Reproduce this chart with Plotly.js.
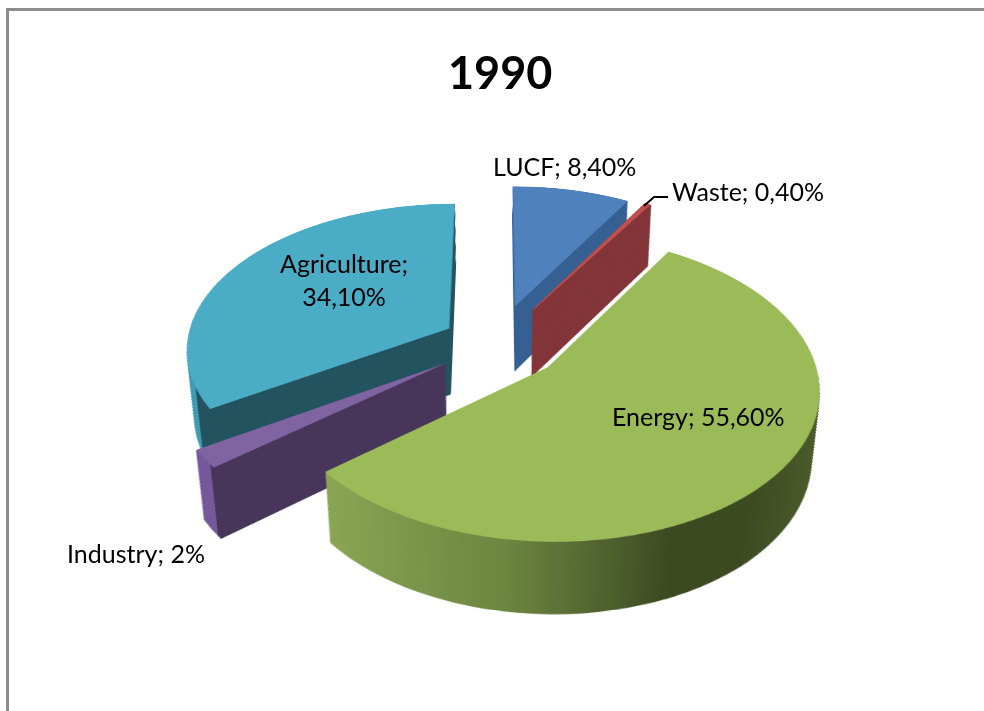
<!DOCTYPE html>
<html><head><meta charset="utf-8">
<script src="https://cdn.plot.ly/plotly-3.0.1.min.js"></script>
<style>
html,body{margin:0;padding:0;background:#fff;overflow:hidden}
#stage{position:relative;width:984px;height:711px;overflow:hidden;background:#fff}
#pies{position:absolute;left:-3px;top:-157px;width:1000px;height:1000px;
 transform-origin:50% 50%;transform:perspective(1676px) rotateX(56.6deg)}
#front{position:absolute;left:0;top:0;width:984px;height:711px}
</style></head><body>
<div id="stage"><div id="pies"></div><div id="front"></div></div>
<script>
const categories=['LUCF','Waste','Energy','Industry','Agriculture'];
const shareValues=[8.4,0.4,55.6,2,34.1];
const explode=[0.27,0.28,0.25,0.24,0.21];
const topColors=['#4f81bd','#c0504d','#9bbb59','#8064a2','#4bacc6'];
const wallColors=['#376092','#83363a','#5f7530','#47365a','#23535f'];
const wallEdgeWidths=[0,2.5,0,1.5,0];
const labelTexts=['LUCF; 8,40%','Waste; 0,40%','Energy; 55,60%','Industry; 2%','Agriculture;<br>34,10%'];
const titleText='1990';

const wallDepth=114, step=1.5, S=1000, taper=0.0007;
const domainSize=0.673, cxFrac=0.5, cyFrac=0.5;
const traces=[];
const nLayers=Math.round(wallDepth/step);
for(let k=nLayers;k>=0;k--){
  const d=k*step, dy=d/S, half=domainSize/2*(1-taper*d);
  traces.push({type:'pie',labels:categories,values:shareValues,sort:false,direction:'clockwise',
    rotation:0,pull:explode,textinfo:'none',hoverinfo:'skip',showlegend:false,
    marker:{colors:k===0?topColors:wallColors,
      line:k===0?{width:[0,1,0,0,0],color:topColors}:{width:wallEdgeWidths,color:wallColors}},
    domain:{x:[cxFrac-half,cxFrac+half],y:[cyFrac-half-dy,cyFrac+half-dy]}});
}
const pieLayout={width:S,height:S,margin:{l:0,r:0,t:0,b:0},paper_bgcolor:'rgba(0,0,0,0)',showlegend:false};
const font='Lato, "Open Sans", sans-serif';
const ann=(text,x,y,size,bold)=>({text:bold?'<b>'+text+'</b>':text,x:x/984,y:1-y/711,xref:'paper',yref:'paper',
  showarrow:false,font:{family:font,size:size,color:'#000'},xanchor:'center',yanchor:'middle',align:'center'});
const frontLayout={width:984,height:711,margin:{l:0,r:0,t:0,b:0},paper_bgcolor:'rgba(0,0,0,0)',plot_bgcolor:'rgba(0,0,0,0)',
  showlegend:false,
  xaxis:{visible:false,range:[0,984],fixedrange:true},yaxis:{visible:false,range:[711,0],fixedrange:true},
  annotations:[ann(titleText,500,72,45,true),ann(labelTexts[0],564,166,25),ann(labelTexts[1],748,191,25),
    ann(labelTexts[2],698,416,25),ann(labelTexts[3],136,553,25),ann(labelTexts[4],344,280,25)],
  shapes:[
   {type:'path',path:'M 7.5 711 L 7.5 9.5 L 984 9.5',xref:'x',yref:'y',line:{color:'#8c8c8c',width:3}},
   {type:'path',path:'M 668 197 L 654 197 L 644 206',xref:'x',yref:'y',line:{color:'#000',width:2}}
  ]};
function addGrad(svg,id,stops){
  const ns='http://www.w3.org/2000/svg';
  let defs=svg.querySelector('defs')||svg.insertBefore(document.createElementNS(ns,'defs'),svg.firstChild);
  const g=document.createElementNS(ns,'linearGradient');g.setAttribute('id',id);
  stops.forEach(s=>{const e=document.createElementNS(ns,'stop');e.setAttribute('offset',s[0]);e.setAttribute('stop-color',s[1]);g.appendChild(e);});
  defs.appendChild(g);
}
Plotly.newPlot('pies',traces,pieLayout,{staticPlot:true,displayModeBar:false}).then(gd=>{
  const svg=gd.querySelector('svg.main-svg');
  addGrad(svg,'gE',[[0,'#8aa654'],[0.35,'#6c8540'],[0.65,'#3c4a22'],[0.8,'#3c4a22'],[1,'#4c5e2b']]);
  addGrad(svg,'gA',[[0,'#3f9ab3'],[0.08,'#3f9ab3'],[0.081,'#23535f'],[1,'#23535f']]);
  addGrad(svg,'gI',[[0,'#75589a'],[0.07,'#75589a'],[0.071,'#47365a'],[1,'#47365a']]);
  const tr=gd.querySelectorAll('.pielayer .trace');
  tr.forEach((t,i)=>{ if(i===tr.length-1) return;
    const s=t.querySelectorAll('.slice path.surface');
    if(s[2]) s[2].style.fill='url(#gE)';
    if(s[3]){ s[3].style.fill='url(#gI)'; s[3].style.stroke='url(#gI)'; }
    if(s[4]) s[4].style.fill='url(#gA)';
  });
});
Plotly.newPlot('front',[],frontLayout,{staticPlot:true,displayModeBar:false});
</script></body></html>
